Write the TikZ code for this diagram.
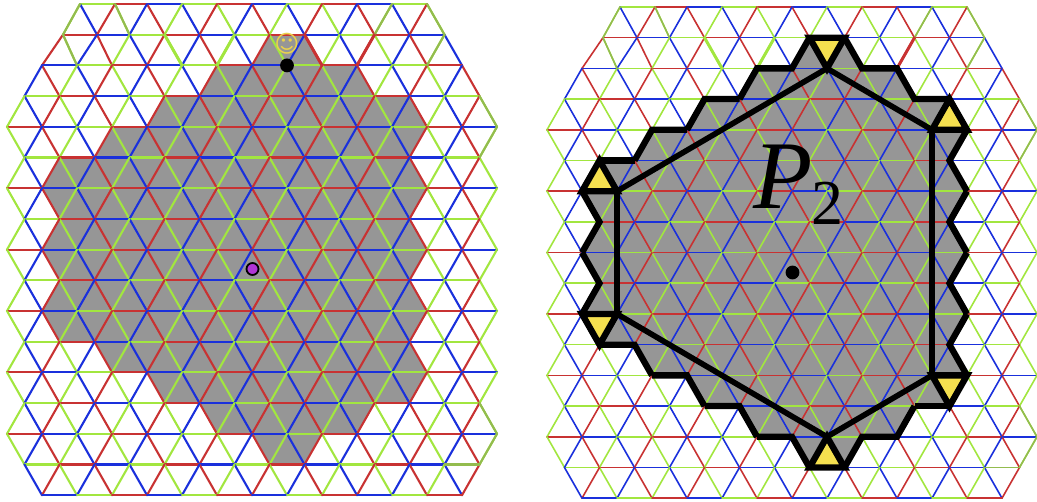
\documentclass[tikz,border=0pt]{standalone}
\usepackage{fontspec}
\newfontfamily\symbolfont{DejaVu Sans}
\newfontfamily\labelfont{Liberation Serif}
\definecolor{edgecol0}{HTML}{A2E63F}
\definecolor{edgecol1}{HTML}{C83232}
\definecolor{edgecol2}{HTML}{1A30DC}
\definecolor{edgeolive}{HTML}{93BC4E}
\definecolor{regiongrey}{HTML}{969696}
\definecolor{triyellow}{HTML}{F5E04F}
\definecolor{smileyyellow}{HTML}{EAD24C}
\definecolor{dotpurple}{HTML}{B035D5}
\tikzset{
  outline/.style={line width=6.3pt,black},
  hexline/.style={line width=5.6pt,black},
  tribox/.style={outline,fill=triyellow,line join=miter},
  dotnode/.style={circle,draw=black,line width=1.8pt,inner sep=0pt,minimum size=12pt}
}
% vertices of the lattice, half units across and row number down
\newcommand{\latticecoords}{
  \foreach \k in {0,...,16}{
    \pgfmathtruncatemacro\umin{{4,3,2,1,0,1,0,1,0,1,0,1,0,1,0,1,2}[\k]}
    \pgfmathtruncatemacro\unext{\umin+2}
    \pgfmathtruncatemacro\umax{28-\umin}
    \foreach \uu in {\umin,\unext,...,\umax}
      \coordinate (v\uu-\k) at (7+17.5*\uu,4+30.7*\k);
  }
  \coordinate (v4-0) at (80,4);
  \coordinate (v6-0) at (115,4);
  \coordinate (v3-1) at (63,34.7);
  \coordinate (v5-1) at (97,34.7);
}
\newcommand{\regionfill}{
  \fill[regiongrey] (v15-1) -- (v17-1) -- (v18-2) -- (v20-2) -- (v21-3) -- (v23-3) -- (v24-4)
    -- (v23-5) -- (v24-6) -- (v23-7) -- (v24-8) -- (v23-9) -- (v24-10) -- (v23-11) -- (v24-12)
    -- (v23-13) -- (v21-13) -- (v20-14) -- (v18-14) -- (v17-15) -- (v15-15) -- (v14-14)
    -- (v12-14) -- (v11-13) -- (v9-13) -- (v8-12) -- (v6-12) -- (v5-11) -- (v3-11) -- (v2-10)
    -- (v3-9) -- (v2-8) -- (v3-7) -- (v2-6) -- (v3-5) -- (v5-5) -- (v6-4) -- (v8-4) -- (v9-3)
    -- (v11-3) -- (v12-2) -- (v14-2) -- cycle;
}
\newcommand{\latticeedges}{
  \foreach \k in {0,...,16}{
    \pgfmathtruncatemacro\umin{{4,3,2,1,0,1,0,1,0,1,0,1,0,1,0,1,2}[\k]}
    \pgfmathtruncatemacro\unext{\umin+2}
    \pgfmathtruncatemacro\umax{28-\umin}
    \pgfmathtruncatemacro\kdown{\k+1}
    \pgfmathtruncatemacro\nmin{{4,3,2,1,0,1,0,1,0,1,0,1,0,1,0,1,2,99}[\k+1]}
    \pgfmathtruncatemacro\off{mod(\k,2)*3}
    \foreach \uu in {\umin,\unext,...,\umax}{
      \pgfmathtruncatemacro\ca{mod((\uu+\off)/2,3)}
      \pgfmathtruncatemacro\cb{mod((\uu+\off)/2+1,3)}
      \pgfmathtruncatemacro\uright{\uu+1}
      \pgfmathtruncatemacro\uleft{\uu-1}
      \pgfmathtruncatemacro\utwo{\uu+2}
      \ifnum\uu<\umax \draw[edgecol\cb] (v\uu-\k) -- (v\utwo-\k); \fi
      \ifnum\k<16
        \ifnum\uright>\numexpr28-\nmin\relax\else \draw[edgecol\ca] (v\uu-\k) -- (v\uright-\kdown); \fi
        \ifnum\uleft<\nmin\else \draw[edgecol\cb] (v\uu-\k) -- (v\uleft-\kdown); \fi
      \fi
    }
  }
  \foreach \a/\b in {4-0/3-1,3-1/4-2,6-0/7-1,22-0/21-1,24-0/25-1,25-1/24-2,27-3/28-4,28-4/27-5,27-13/28-14,28-14/27-15,25-15/27-15}
    \draw[edgeolive] (v\a) -- (v\b);
  \foreach \a/\b in {9-1/10-2,13-1/12-2}
    \draw[edgecol0,line width=3pt] (v\a) -- (v\b);
  \foreach \a/\b in {21-1/20-2,17-1/18-2}
    \draw[edgecol1,line width=3pt] (v\a) -- (v\b);
}

\begin{document}
\begin{tikzpicture}[x=1pt,y=-1pt,line cap=round]
  \useasboundingbox (0,0) rectangle (1037,502);
  % left panel
  \begin{scope}[line width=2.1pt,name prefix=l-]
    \latticecoords
    \regionfill
    \latticeedges
    \node[text=smileyyellow,font=\symbolfont\fontsize{24}{24}\selectfont] (smiley) at (287,44) {☺};
    \node[dotnode,fill=black] (start) at (v16-2) {};
    \node[dotnode,fill=dotpurple] (centre) at (252.5,269) {};
  \end{scope}
  % right panel
  \begin{scope}[shift={(540,3)},line width=1.6pt,name prefix=r-]
    \latticecoords
    \regionfill
    \latticeedges
  \end{scope}
  \begin{scope}[name prefix=r-,line cap=butt,line join=miter]
    \draw[tribox] (v2-6) -- (v3-5) -- (v4-6) -- cycle;
    \draw[tribox] (v15-1) -- (v17-1) -- (v16-2) -- cycle;
    \draw[tribox] (v23-3) -- (v24-4) -- (v22-4) -- cycle;
    \draw[tribox] (v22-12) -- (v24-12) -- (v23-13) -- cycle;
    \draw[tribox] (v15-15) -- (v16-14) -- (v17-15) -- cycle;
    \draw[tribox] (v2-10) -- (v4-10) -- (v3-11) -- cycle;
    \draw[hexline] (v4-6) -- (v16-2) -- (v22-4) -- (v22-12) -- (v16-14) -- (v4-10) -- cycle;
    \draw[outline] (v3-5) -- (v5-5);
    \draw[outline] (v5-5) -- (v6-4) -- (v8-4);
    \draw[outline] (v8-4) -- (v9-3) -- (v11-3);
    \draw[outline] (v11-3) -- (v12-2) -- (v14-2) -- (v15-1);
    \draw[outline] (v17-1) -- (v18-2) -- (v20-2) -- (v21-3) -- (v23-3);
    \draw[outline] (v24-4) -- (v23-5) -- (v24-6);
    \draw[outline] (v24-6) -- (v23-7) -- (v24-8);
    \draw[outline] (v24-8) -- (v23-9) -- (v24-10);
    \draw[outline] (v24-10) -- (v23-11) -- (v24-12);
    \draw[outline] (v23-13) -- (v21-13);
    \draw[outline] (v21-13) -- (v20-14) -- (v18-14) -- (v17-15);
    \draw[outline] (v15-15) -- (v14-14) -- (v12-14);
    \draw[outline] (v12-14) -- (v11-13) -- (v9-13);
    \draw[outline] (v9-13) -- (v8-12) -- (v6-12);
    \draw[outline] (v6-12) -- (v5-11) -- (v3-11);
    \draw[outline] (v2-10) -- (v3-9) -- (v2-8);
    \draw[outline] (v2-8) -- (v3-7) -- (v2-6);
  \end{scope}
  \node[dotnode,fill=black] (centreR) at (792.5,272.5) {};
  \node[anchor=base west,inner sep=0pt,font=\labelfont\itshape\fontsize{97}{97}\selectfont] (labelP) at (753,209) {P};
  \node[anchor=base west,inner sep=0pt,font=\labelfont\fontsize{64}{64}\selectfont] (labelsub) at (811,225) {2};
\end{tikzpicture}
\end{document}
